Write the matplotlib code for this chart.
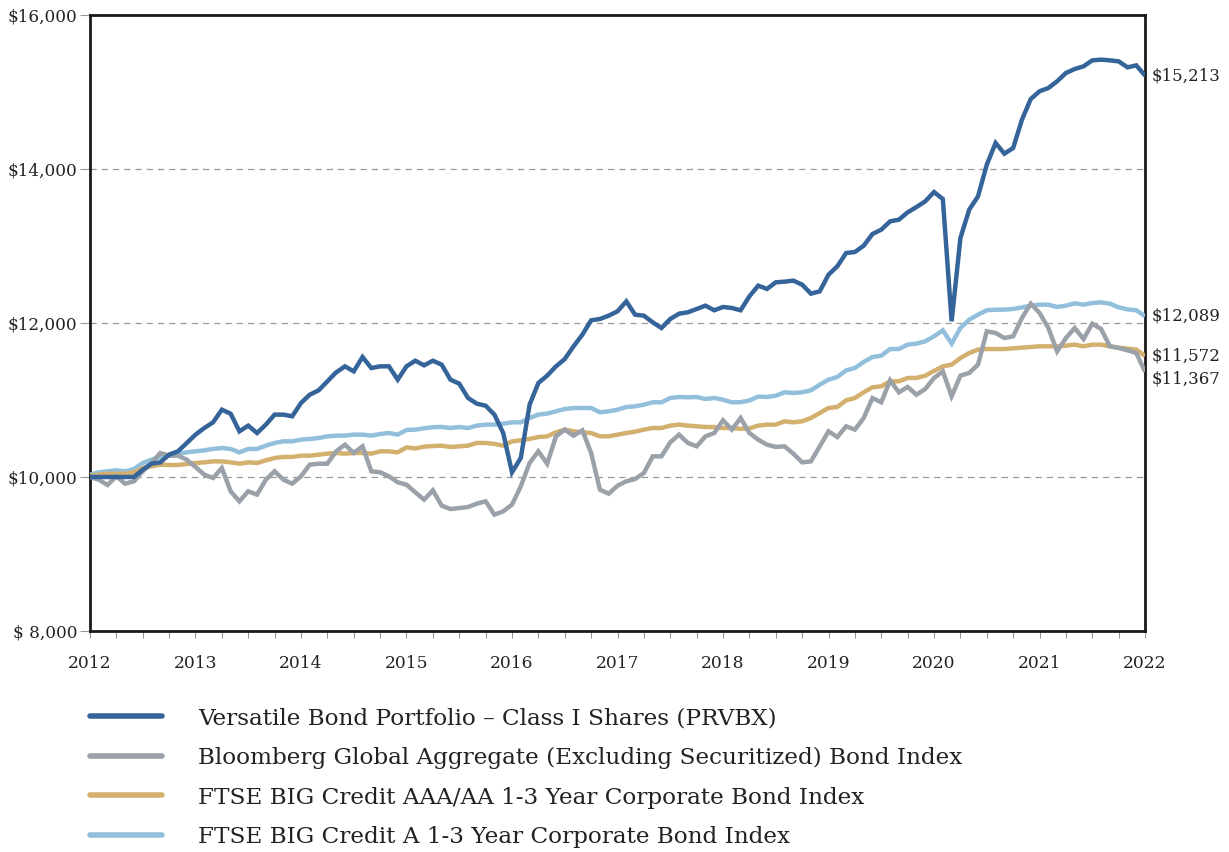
import numpy as np
import matplotlib
matplotlib.use("Agg")
import matplotlib.pyplot as plt

plt.rcParams["font.family"] = ["DejaVu Serif"]

# monthly growth of $10,000, Jan 2012 .. Jan 2022 (121 points)
versatile = [
    10000, 10000, 10000, 10000, 10000, 10000, 10095, 10173, 10190, 10290, 10333, 10440,
    10550, 10636, 10710, 10874, 10822, 10593, 10667, 10571, 10680, 10810, 10810, 10788,
    10961, 11069, 11125, 11242, 11359, 11437, 11372, 11558, 11415, 11437, 11437, 11264,
    11437, 11510, 11450, 11510, 11459, 11264, 11212, 11026, 10952, 10926, 10810, 10571,
    10061, 10247, 10939, 11221, 11316, 11437, 11532, 11697, 11848, 12035, 12052, 12095,
    12152, 12281, 12108, 12095, 12009, 11935, 12052, 12121, 12139, 12182, 12225, 12165,
    12208, 12195, 12165, 12346, 12485, 12442, 12528, 12537, 12550, 12498, 12381, 12411,
    12628, 12736, 12909, 12922, 13004, 13156, 13212, 13320, 13342, 13437, 13506, 13580,
    13701, 13610, 12022, 13104, 13472, 13645, 14056, 14338, 14199, 14273, 14641, 14909,
    15009, 15052, 15139, 15247, 15299, 15333, 15411, 15420, 15411, 15398, 15320, 15346,
    15213,
]
bloomberg = [
    10000, 9965, 9896, 10009, 9913, 9944, 10074, 10182, 10312, 10277, 10277, 10225,
    10130, 10030, 9987, 10117, 9814, 9684, 9814, 9771, 9965, 10074, 9965, 9913,
    10009, 10160, 10173, 10173, 10333, 10420, 10312, 10398, 10074, 10061, 10009, 9931,
    9900, 9801, 9706, 9827, 9628, 9584, 9597, 9610, 9654, 9684, 9511, 9554,
    9641, 9879, 10182, 10333, 10173, 10528, 10615, 10537, 10606, 10312, 9835, 9784,
    9887, 9944, 9974, 10052, 10268, 10268, 10450, 10550, 10442, 10398, 10528, 10571,
    10736, 10615, 10766, 10571, 10485, 10420, 10390, 10398, 10303, 10190, 10203, 10398,
    10593, 10519, 10658, 10615, 10766, 11026, 10970, 11255, 11100, 11169, 11069, 11143,
    11286, 11372, 11048, 11316, 11351, 11459, 11892, 11870, 11805, 11827, 12065, 12251,
    12130, 11935, 11632, 11805, 11935, 11792, 11991, 11922, 11697, 11675, 11645, 11610,
    11367,
]
ftse_aaa = [
    10017, 10030, 10043, 10043, 10043, 10061, 10117, 10139, 10160, 10156, 10156, 10169,
    10182, 10190, 10203, 10203, 10190, 10173, 10190, 10182, 10216, 10247, 10260, 10260,
    10277, 10277, 10290, 10303, 10312, 10303, 10312, 10312, 10303, 10333, 10333, 10320,
    10385, 10370, 10394, 10402, 10407, 10390, 10398, 10407, 10442, 10442, 10429, 10407,
    10463, 10476, 10494, 10519, 10528, 10580, 10615, 10593, 10580, 10571, 10528, 10528,
    10550, 10571, 10589, 10615, 10636, 10636, 10667, 10680, 10667, 10658, 10649, 10649,
    10636, 10636, 10625, 10632, 10667, 10680, 10680, 10723, 10710, 10723, 10766, 10831,
    10896, 10909, 10996, 11026, 11100, 11165, 11177, 11242, 11242, 11286, 11286, 11316,
    11377, 11437, 11459, 11545, 11610, 11654, 11662, 11662, 11662, 11671, 11680, 11688,
    11697, 11697, 11697, 11706, 11719, 11697, 11719, 11719, 11697, 11680, 11667, 11654,
    11572,
]
ftse_a = [
    10030, 10061, 10074, 10087, 10074, 10104, 10182, 10225, 10260, 10290, 10303, 10320,
    10333, 10346, 10364, 10377, 10364, 10320, 10364, 10364, 10407, 10442, 10463, 10463,
    10485, 10494, 10506, 10528, 10537, 10537, 10550, 10550, 10537, 10558, 10571, 10550,
    10610, 10615, 10632, 10647, 10650, 10636, 10649, 10636, 10667, 10680, 10680, 10693,
    10710, 10710, 10766, 10810, 10823, 10853, 10883, 10896, 10896, 10896, 10840, 10853,
    10874, 10909, 10918, 10939, 10970, 10970, 11026, 11039, 11035, 11039, 11013, 11026,
    11004, 10970, 10972, 10994, 11044, 11039, 11056, 11100, 11091, 11100, 11126, 11199,
    11264, 11299, 11385, 11416, 11494, 11558, 11576, 11662, 11662, 11719, 11732, 11762,
    11827, 11905, 11732, 11935, 12043, 12108, 12165, 12173, 12173, 12182, 12203, 12225,
    12238, 12238, 12208, 12225, 12255, 12238, 12260, 12268, 12251, 12203, 12177, 12165,
    12089,
]

series_names = [
    "Versatile Bond Portfolio \u2013 Class I Shares (PRVBX)",
    "Bloomberg Global Aggregate (Excluding Securitized) Bond Index",
    "FTSE BIG Credit AAA/AA 1-3 Year Corporate Bond Index",
    "FTSE BIG Credit A 1-3 Year Corporate Bond Index",
]
end_labels = ["$15,213", "$11,367", "$11,572", "$12,089"]
year_ticks = list(range(2012, 2023))
y_ticks = [8000, 10000, 12000, 14000, 16000]
y_tick_labels = ["$ 8,000", "$10,000", "$12,000", "$14,000", "$16,000"]

colors = ["#346499", "#9aa1a9", "#d3b06d", "#92c0dc"]
label_offsets = [0, -5, 0, 0]  # points, keeps end labels apart

all_series = [versatile, bloomberg, ftse_aaa, ftse_a]
months = np.arange(len(versatile))
x = 2012 + months / 12.0

fig = plt.figure(figsize=(12.29, 8.52), dpi=100)
ax = fig.add_axes([0.0732, 0.2594, 0.8585, 0.723])

# draw the light lines first so the fund line sits on top
for i in reversed(range(len(all_series))):
    ax.plot(x, all_series[i], color=colors[i], lw=3.2, label=series_names[i],
            solid_joinstyle="miter", solid_capstyle="butt", zorder=3 + (3 - i))

for v in [10000, 12000, 14000]:
    ax.axhline(v, color="#9a9a9a", lw=0.9, ls=(0, (5, 4)), zorder=1)

ax.set_xlim(2012, 2022)
ax.set_ylim(8000, 16000)
ax.set_xticks(year_ticks)
ax.set_xticklabels([str(y) for y in year_ticks])
ax.set_xticks(np.arange(2012, 2022.01, 0.25), minor=True)
ax.set_yticks(y_ticks)
ax.set_yticklabels(y_tick_labels)

ax.tick_params(axis="x", which="major", length=5, width=0.8, color="#999999",
               labelsize=12.3, pad=12, colors="#222222")
ax.tick_params(axis="x", which="minor", length=5, width=0.8, color="#999999")
ax.tick_params(axis="y", length=7, width=0.8, color="#999999", labelsize=12.2,
               pad=2, labelcolor="#222222")

for s in ax.spines.values():
    s.set_linewidth(2.0)
    s.set_color("#1a1a1a")

for i, s in enumerate(all_series):
    ax.annotate(end_labels[i], xy=(2022, s[-1]), xytext=(4.5, label_offsets[i]),
                textcoords="offset points", va="center", ha="left",
                fontsize=12.0, color="#222222", annotation_clip=False)

handles, labels = ax.get_legend_handles_labels()
order = [3, 2, 1, 0]
leg = fig.legend([handles[k] for k in order], [labels[k] for k in order],
                 loc="upper left", bbox_to_anchor=(0.0732, 0.170),
                 frameon=False, fontsize=16.7, handlelength=3.1,
                 handletextpad=1.55, labelspacing=0.76, borderpad=0,
                 borderaxespad=0)
for t in leg.get_texts():
    t.set_color("#222222")
for h in leg.get_lines():
    h.set_linewidth(4.0)
    h.set_solid_capstyle("round")

fig.savefig("out.png", dpi=100)
